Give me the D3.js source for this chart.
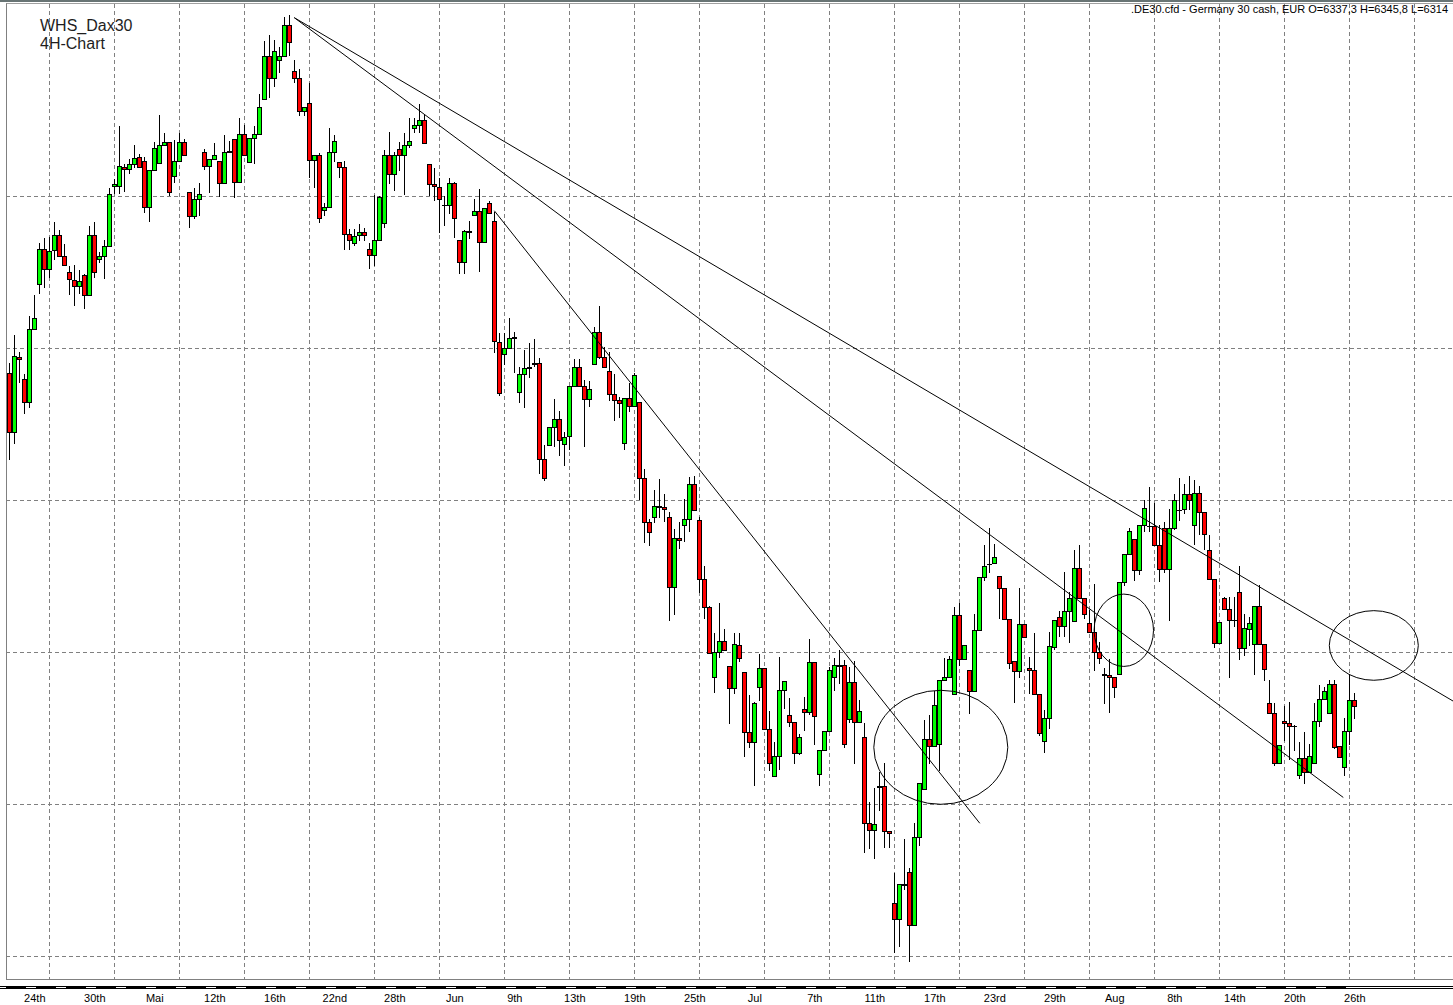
<!DOCTYPE html>
<html><head><meta charset="utf-8">
<script src="https://cdn.jsdelivr.net/npm/d3@7"></script>
<style>
html,body{margin:0;padding:0;background:#fff;overflow:hidden;}
svg{display:block;}
text{font-family:"Liberation Sans",Arial,sans-serif;}
</style></head><body>
<svg id="chart" width="1453" height="1005"></svg>
<script>
// ---- data (4H candles, DE30 cash) ----
const openP = [6768,6690,6789,6759,6729,6825,6884,6930,6904,6929,6949,6921,6900,6890,6882,6896,6870,6949,6918,6922,
6934,7013,7014,7039,7036,7042,7052,7047,6986,7034,7044,7068,7071,7027,7047,7071,7005,6974,6996,7058,
7040,7049,7047,7017,7058,7076,7019,7082,7045,7077,7082,7128,7185,7155,7180,7185,7225,7165,7156,7112,
7123,7048,7054,6982,6986,7058,7045,7038,6951,6938,6949,6953,6930,6923,6943,6965,7054,7029,7062,7054,
7068,7090,7094,7101,7043,7016,7012,6989,6989,7017,6943,6913,6955,6975,6981,6940,6991,6967,6808,6793,
6800,6815,6742,6766,6774,6779,6781,6655,6673,6697,6707,6674,6684,6750,6776,6750,6733,6780,6822,6789,
6770,6740,6732,6675,6734,6724,6729,6629,6571,6578,6593,6591,6578,6486,6550,6567,6575,6622,6574,6497,
6459,6367,6401,6415,6382,6353,6409,6374,6295,6282,6354,6379,6299,6237,6264,6351,6318,6308,6268,6326,
6321,6387,6240,6272,6296,6367,6382,6383,6312,6361,6308,6289,6176,6166,6224,6224,6165,6070,6049,6095,
6111,6041,6157,6220,6286,6277,6280,6364,6368,6345,6449,6391,6377,6349,6429,6499,6516,6517,6501,6484,
6444,6389,6375,6437,6380,6377,6345,6283,6313,6407,6447,6435,6455,6441,6511,6472,6439,6427,6401,6371,
6370,6367,6372,6492,6530,6549,6508,6568,6566,6566,6541,6564,6509,6564,6587,6588,6608,6567,6610,6585,
6534,6497,6412,6471,6457,6442,6479,6405,6431,6411,6461,6411,6333,6320,6254,6309,6307,6303,6239,6261,
6243,6254,6309,6338,6320,6358,6277,6249,6296,6337.3];
const highP = [6781,6818,6795,6766,6843,6870,6939,6945,6946,6966,6956,6937,6908,6910,6903,6898,6961,6966,6927,6943,
7011,7023,7093,7043,7049,7068,7056,7052,7034,7072,7107,7083,7071,7074,7083,7075,7005,7011,7018,7062,
7049,7070,7047,7080,7073,7076,7103,7094,7077,7092,7134,7204,7212,7206,7197,7236,7238,7179,7167,7117,
7149,7054,7057,6991,7090,7081,7045,7046,6957,6957,6963,6958,6938,7002,7000,7061,7084,7058,7072,7083,
7103,7103,7122,7107,7043,7037,7024,7000,7024,7019,6943,6956,6967,6997,7009,6984,6994,6980,6820,6820,
6840,6822,6776,6798,6807,6812,6787,6673,6697,6733,6717,6690,6750,6786,6786,6758,6757,6828,6856,6802,
6795,6766,6736,6734,6754,6767,6729,6641,6575,6614,6628,6608,6584,6562,6571,6602,6630,6632,6578,6514,
6461,6426,6465,6430,6382,6426,6426,6374,6344,6335,6398,6379,6323,6282,6394,6362,6340,6308,6293,6341,
6418,6387,6272,6296,6381,6393,6403,6390,6381,6388,6337,6307,6203,6221,6243,6254,6165,6109,6095,6154,
6116,6176,6228,6311,6318,6349,6364,6392,6395,6460,6465,6410,6377,6450,6499,6541,6563,6543,6501,6484,
6444,6389,6485,6437,6394,6425,6345,6324,6427,6443,6454,6505,6480,6535,6541,6472,6456,6490,6414,6379,
6391,6367,6492,6530,6563,6549,6568,6600,6618,6597,6568,6572,6588,6608,6629,6621,6632,6627,6619,6585,
6554,6497,6440,6473,6473,6473,6514,6450,6447,6461,6489,6411,6363,6333,6278,6329,6334,6304,6282,6295,
6279,6333,6357,6354,6363,6363,6277,6313,6372,6345.8];
const lowP = [6654,6675,6756,6715,6723,6825,6873,6881,6894,6918,6921,6909,6871,6857,6873,6853,6870,6894,6914,6893,
6934,7004,7004,7007,7031,7039,7039,6980,6968,7034,7044,7068,7002,7019,7047,7055,6960,6971,6976,7036,
7005,7049,7001,7017,7058,6999,7019,7055,7045,7044,7082,7128,7131,7145,7164,7185,7186,7150,7107,7107,
7026,7012,6966,6975,6986,7046,7026,6931,6931,6936,6943,6943,6906,6910,6943,6960,7017,7008,7035,7003,
7065,7085,7085,7070,7002,6995,6953,6962,6978,6946,6899,6899,6945,6975,6902,6940,6978,6795,6739,6780,
6800,6769,6729,6723,6762,6777,6636,6627,6673,6671,6660,6647,6667,6750,6750,6671,6724,6780,6787,6775,
6732,6706,6710,6668,6717,6724,6602,6545,6541,6572,6578,6573,6442,6450,6537,6546,6559,6587,6480,6445,
6399,6348,6394,6403,6307,6347,6389,6263,6275,6225,6337,6299,6245,6237,6246,6327,6303,6255,6266,6298,
6319,6279,6225,6272,6296,6351,6359,6276,6308,6254,6308,6137,6142,6129,6192,6144,6144,6005,6013,6089,
5994,6041,6146,6220,6255,6277,6245,6364,6368,6345,6383,6391,6320,6349,6429,6495,6506,6517,6445,6444,
6379,6335,6368,6420,6346,6345,6291,6269,6301,6404,6421,6422,6414,6441,6472,6445,6427,6377,6386,6333,
6322,6341,6372,6489,6530,6495,6503,6560,6560,6541,6494,6505,6443,6562,6574,6583,6588,6543,6556,6536,
6497,6407,6412,6457,6367,6434,6391,6397,6410,6372,6411,6364,6320,6252,6254,6285,6260,6271,6234,6228,
6243,6254,6303,6338,6320,6274,6262,6238,6280,6314];
const closeP = [6690,6790,6786,6729,6825,6840,6930,6904,6928,6949,6921,6909,6891,6882,6888,6870,6949,6901,6922,6934,
7003,7016,7040,7036,7042,7051,7039,6986,7034,7063,7068,7071,7005,7047,7071,7055,6974,6996,7003,7040,
7049,7055,7017,7058,7060,7019,7082,7055,7077,7082,7118,7185,7155,7191,7184,7225,7203,7156,7112,7117,
7048,7054,6971,6986,7058,7073,7038,6951,6943,6948,6953,6949,6923,6943,6999,7054,7029,7054,7054,7068,
7073,7094,7101,7070,7016,7014,6997,6988,7017,6972,6913,6955,6953,6981,6940,6984,6978,6810,6741,6800,
6813,6813,6766,6774,6776,6781,6655,6629,6697,6707,6679,6683,6750,6776,6750,6733,6746,6822,6789,6775,
6740,6732,6728,6734,6724,6765,6629,6571,6558,6593,6591,6588,6486,6551,6548,6575,6622,6587,6497,6459,
6399,6401,6415,6403,6353,6411,6393,6295,6282,6333,6379,6299,6254,6264,6350,6362,6308,6268,6288,6321,
6387,6316,6272,6296,6377,6383,6383,6279,6361,6308,6323,6176,6166,6174,6223,6165,6162,6049,6095,6094,
6041,6157,6228,6286,6277,6331,6364,6368,6391,6449,6391,6410,6349,6429,6499,6514,6516,6526,6484,6444,
6386,6375,6437,6420,6377,6345,6294,6313,6408,6443,6435,6455,6471,6511,6472,6450,6427,6401,6393,6370,
6367,6354,6492,6530,6560,6508,6568,6590,6566,6541,6509,6509,6564,6600,6587,6608,6600,6610,6585,6555,
6497,6412,6440,6457,6443,6442,6405,6432,6438,6461,6411,6378,6320,6254,6278,6307,6303,6303,6261,6243,
6264,6309,6338,6349,6358,6276,6262,6296,6337,6330];
const dateLabels = ["24th","30th","Mai","12th","16th","22nd","28th","Jun","9th","13th","19th","25th",
"Jul","7th","11th","17th","23rd","29th","Aug","8th","14th","20th","26th"];
const gridPrices = [6000,6200,6400,6600,6800,7000];
// annotations in data space: [barIndex, price]
const trendLines = [[[57,7235],[290,6331]],[[57,7235],[266.8,6209]],[[97,6981],[194.1,6175]]];
// ellipses: [centerIndex, centerPrice, radiusBars, radiusPrice]
const ellipses = [[186.3,6275,13.4,75],[222.9,6429,5.94,47.6],[272.9,6409,8.9,45.8]];
const titleLines = ["WHS_Dax30","4H-Chart"];
const infoText = ".DE30.cfd - Germany 30 cash, EUR O=6337,3 H=6345,8 L=6314";

// ---- drawing ----
const W = 1453, H = 1005;
const plotL = 6, plotT = 4, plotB = 979;
const svg = d3.select("#chart");
const n = openP.length;
const x = d3.scaleLinear().domain([0, n - 1]).range([9.3, 9.3 + 5 * (n - 1)]);
const y = d3.scaleLinear().domain([6000, 7200]).range([956.3, 44.3]);
const px = v => Math.round(x(v)) + 0.5;
const py = v => Math.round(y(v)) + 0.5;

svg.append("rect").attr("x",0).attr("y",0).attr("width",W).attr("height",H).attr("fill","#fff");
svg.append("defs").append("clipPath").attr("id","plotClip")
  .append("rect").attr("x",plotL).attr("y",plotT).attr("width",W-plotL).attr("height",plotB-plotT);

// grid
const grid = svg.append("g").attr("stroke","#808080").attr("stroke-width",1).attr("stroke-dasharray","4,3");
const lastIdx = x.invert(W);
const vIdx = d3.range(8, lastIdx, 13);
grid.selectAll("line.v").data(vIdx).join("line").attr("class","v")
  .attr("x1",d=>px(d)).attr("x2",d=>px(d)).attr("y1",plotT).attr("y2",plotB);
grid.selectAll("line.h").data(gridPrices).join("line").attr("class","h")
  .attr("x1",plotL).attr("x2",W).attr("y1",d=>py(d)).attr("y2",d=>py(d));

// frame
svg.append("rect").attr("x",0).attr("y",0).attr("width",W).attr("height",2).attr("fill","#687474");
svg.append("line").attr("x1",plotL).attr("x2",W).attr("y1",3.5).attr("y2",3.5).attr("stroke","#a0a0a0");
svg.append("line").attr("x1",plotL+0.5).attr("x2",plotL+0.5).attr("y1",3.5).attr("y2",plotB+0.5).attr("stroke","#808080");
svg.append("line").attr("x1",plotL).attr("x2",W).attr("y1",plotB+0.5).attr("y2",plotB+0.5).attr("stroke","#808080");

// candles
const data = d3.range(n).map(i => ({i, o:openP[i], h:highP[i], l:lowP[i], c:closeP[i]}));
const cg = svg.append("g").attr("clip-path","url(#plotClip)");
cg.selectAll("line.wick").data(data).join("line").attr("class","wick")
  .attr("x1",d=>px(d.i)).attr("x2",d=>px(d.i))
  .attr("y1",d=>Math.round(y(d.h))).attr("y2",d=>Math.round(y(d.l))+1)
  .attr("stroke","#000").attr("stroke-width",1);
data.forEach(d => {
  const top = py(Math.max(d.o,d.c)), bot = py(Math.min(d.o,d.c));
  const cx = px(d.i);
  if (bot - top < 1) {
    cg.append("line").attr("x1",cx-2.5).attr("x2",cx+2.5).attr("y1",top).attr("y2",top)
      .attr("stroke","#000").attr("stroke-width",1);
  } else {
    cg.append("rect").attr("x",cx-2).attr("y",top).attr("width",4).attr("height",bot-top)
      .attr("fill", d.c >= d.o ? "#00ff00" : "#ff0000").attr("stroke","#000").attr("stroke-width",1);
  }
});

// annotations
const ag = svg.append("g").attr("clip-path","url(#plotClip)").attr("fill","none").attr("stroke","#000").attr("stroke-width",1);
ag.selectAll("line").data(trendLines).join("line")
  .attr("x1",d=>x(d[0][0])).attr("y1",d=>y(d[0][1])).attr("x2",d=>x(d[1][0])).attr("y2",d=>y(d[1][1]));
ag.selectAll("ellipse").data(ellipses).join("ellipse")
  .attr("cx",d=>x(d[0])).attr("cy",d=>y(d[1]))
  .attr("rx",d=>x(d[0]+d[2])-x(d[0])).attr("ry",d=>y(d[1]-d[3])-y(d[1]));

// titles
svg.selectAll("text.title").data(titleLines).join("text").attr("class","title")
  .attr("x",40).attr("y",(d,i)=>31+18*i).attr("font-size",16).attr("fill","#1e1e1e").text(d=>d);
svg.append("text").attr("x",1131).attr("y",13).attr("font-size",11).attr("fill","#000").text(infoText);

// time band
const bandTop = 986, bandEnd = x(n - 1) - 2;
svg.append("line").attr("x1",0).attr("x2",W).attr("y1",bandTop+0.5).attr("y2",bandTop+0.5).attr("stroke","#000");
svg.append("line").attr("x1",0).attr("x2",W).attr("y1",bandTop+2.5).attr("y2",bandTop+2.5).attr("stroke","#000");
const segStarts = d3.range(-0.66, (bandEnd-9.3)/5, 6);
svg.selectAll("rect.seg").data(segStarts).join("rect").attr("class","seg")
  .attr("x",d=>x(d)).attr("y",bandTop)
  .attr("width",d=>Math.min(x(d+4), bandEnd) - x(d)).attr("height",3).attr("fill","#000");

// x axis labels
const axis = d3.axisBottom(x).tickValues(dateLabels.map((d,i)=>5+12*i))
  .tickFormat((d,i)=>dateLabels[i]).tickSize(0).tickPadding(3);
const ax = svg.append("g").attr("transform","translate(0,991)").call(axis);
ax.select(".domain").remove();
ax.selectAll("text").attr("font-size",11).attr("fill","#000").attr("font-family","Liberation Sans, Arial, sans-serif");
</script>
</body></html>
